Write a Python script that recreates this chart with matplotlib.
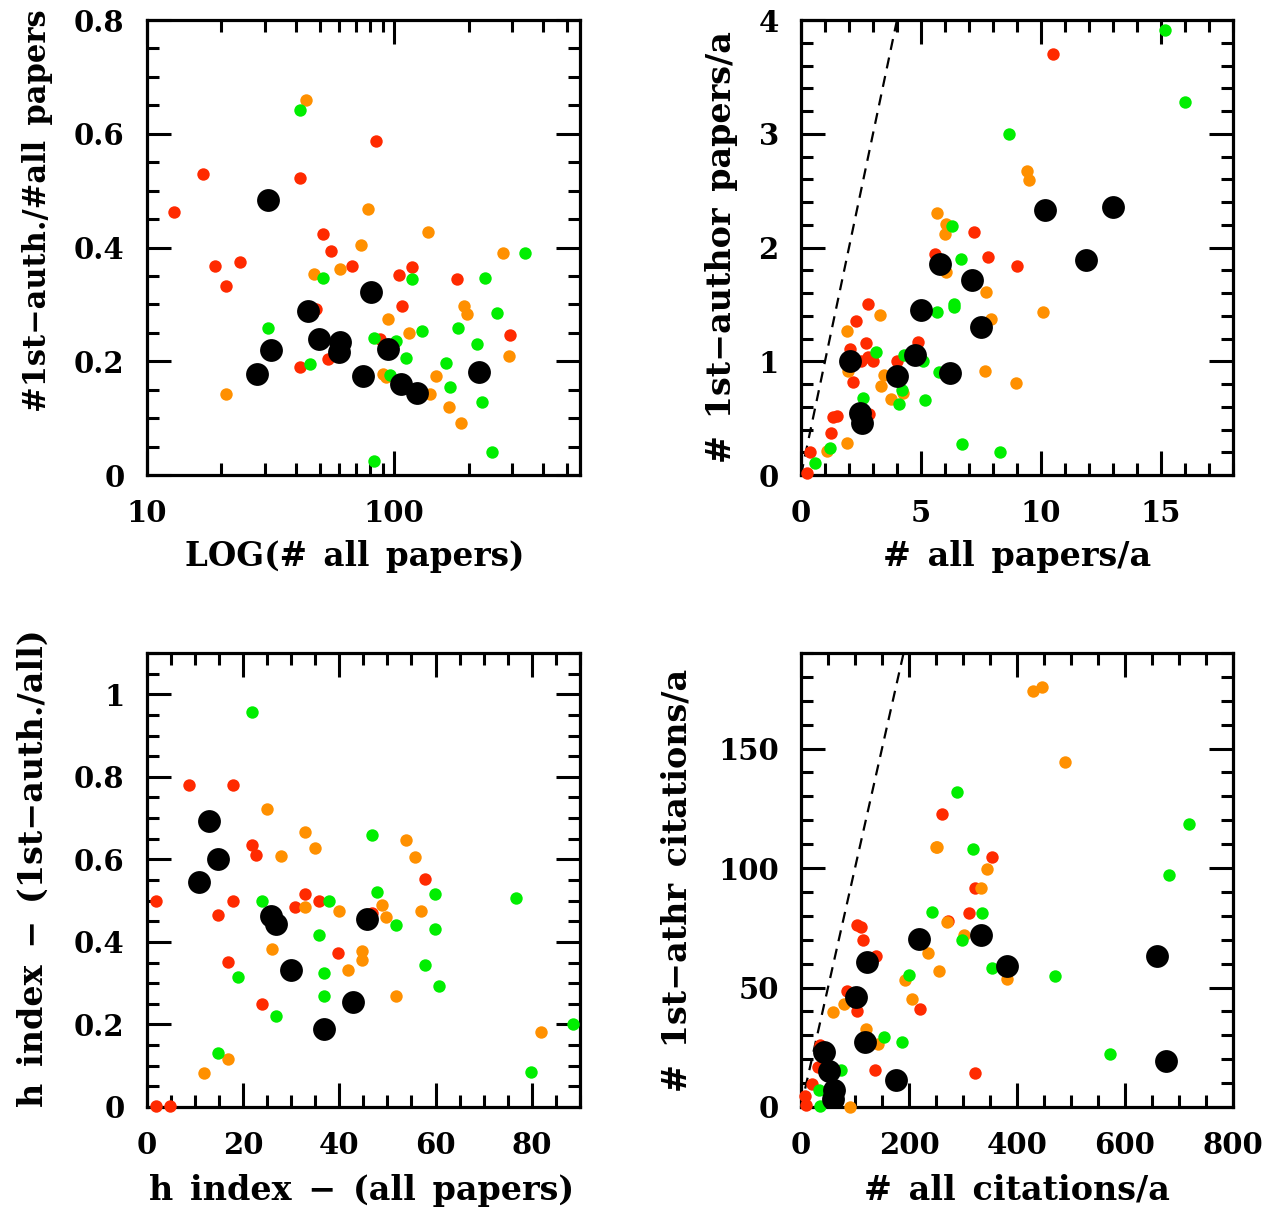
import matplotlib
matplotlib.use("Agg")
import matplotlib.pyplot as plt
from matplotlib.ticker import FixedLocator, MultipleLocator, FuncFormatter, NullFormatter

# ---------------- data ----------------
# Panel 1: x = # all papers (log), y = #1st-auth./#all papers
p1_red_x = [12.9, 16.9, 18.9, 20.9, 23.8, 41.7, 84.3, 51.5, 55.5, 67.4, 104, 117.5, 178.6, 107.4, 48.5, 41.7, 53.8, 87.5, 293.8]
p1_red_y = [0.462, 0.529, 0.368, 0.333, 0.375, 0.523, 0.588, 0.423, 0.393, 0.368, 0.352, 0.365, 0.345, 0.297, 0.292, 0.190, 0.204, 0.240, 0.246]
p1_org_x = [43.8, 78.5, 136.8, 73.3, 47.5, 60.5, 20.9, 94.2, 115, 191, 196, 276, 289.5, 89.8, 93, 148, 140, 167, 186]
p1_org_y = [0.659, 0.468, 0.427, 0.405, 0.354, 0.362, 0.143, 0.274, 0.250, 0.297, 0.283, 0.391, 0.209, 0.178, 0.173, 0.174, 0.142, 0.119, 0.091]
p1_grn_x = [41.7, 30.9, 45.7, 51.5, 118.3, 82.8, 101.6, 128.8, 111.2, 96, 180.7, 161.7, 167.8, 232, 259, 215.6, 225.9, 337, 247, 82.8]
p1_grn_y = [0.642, 0.258, 0.196, 0.346, 0.345, 0.241, 0.236, 0.254, 0.205, 0.175, 0.259, 0.197, 0.154, 0.346, 0.284, 0.230, 0.128, 0.391, 0.040, 0.025]
p1_blk_x = [30.9, 80.2, 44.7, 31.8, 27.8, 49.6, 60.5, 59.6, 94.2, 74.5, 106.2, 123, 219]
p1_blk_y = [0.483, 0.321, 0.289, 0.219, 0.178, 0.240, 0.233, 0.217, 0.222, 0.174, 0.160, 0.145, 0.181]

# Panel 2: x = # all papers/a, y = # 1st-author papers/a
p2_red_x = [10.49, 7.19, 7.81, 8.99, 5.58, 2.81, 2.28, 2.72, 2.06, 2.78, 2.99, 2.51, 2.17, 3.99, 4.88, 1.35, 1.49, 1.25, 2.83, 0.375, 0.24]
p2_red_y = [3.698, 2.133, 1.919, 1.834, 1.943, 1.503, 1.354, 1.163, 1.108, 1.040, 1.002, 1.005, 0.821, 1.005, 1.169, 0.507, 0.519, 0.372, 0.539, 0.199, 0.015]
p2_org_x = [9.42, 9.50, 5.68, 6.06, 5.99, 6.03, 7.71, 7.90, 10.07, 3.28, 1.92, 1.96, 7.67, 8.94, 3.47, 3.32, 3.74, 4.24, 1.92, 1.10]
p2_org_y = [2.673, 2.596, 2.306, 2.204, 2.122, 1.785, 1.609, 1.371, 1.430, 1.407, 1.263, 0.914, 0.911, 0.812, 0.882, 0.779, 0.671, 0.724, 0.278, 0.208]
p2_grn_x = [15.18, 16.0, 8.65, 6.31, 6.68, 6.36, 6.36, 5.65, 3.11, 4.28, 5.10, 5.75, 2.57, 4.21, 4.08, 5.15, 1.19, 0.58, 6.71, 8.28]
p2_grn_y = [3.912, 3.282, 2.998, 2.189, 1.896, 1.503, 1.474, 1.433, 1.081, 1.055, 1.002, 0.903, 0.674, 0.744, 0.621, 0.662, 0.240, 0.108, 0.275, 0.202]
p2_blk_x = [10.18, 13.01, 11.89, 5.78, 7.13, 4.99, 7.49, 4.74, 2.06, 3.99, 6.19, 2.44, 2.53]
p2_blk_y = [2.333, 2.353, 1.890, 1.855, 1.714, 1.448, 1.301, 1.052, 1.002, 0.870, 0.900, 0.542, 0.454]

# Panel 3: x = h index (all papers), y = h index (1st-auth./all)
p3_red_x = [8.86, 17.9, 1.87, 17.9, 14.9, 21.9, 22.8, 32.8, 30.8, 35.8, 46.9, 57.8, 39.8, 16.9, 23.9, 1.87, 4.84]
p3_red_y = [0.779, 0.779, 0.500, 0.500, 0.466, 0.636, 0.610, 0.515, 0.484, 0.500, 0.470, 0.552, 0.374, 0.352, 0.249, 0.002, 0.002]
p3_org_x = [24.9, 32.8, 34.9, 27.9, 53.8, 55.8, 32.8, 39.9, 48.9, 49.8, 56.9, 26.0, 44.8, 44.8, 41.8, 51.8, 81.8, 16.8, 11.8]
p3_org_y = [0.721, 0.667, 0.628, 0.607, 0.648, 0.606, 0.485, 0.475, 0.489, 0.460, 0.474, 0.384, 0.377, 0.355, 0.332, 0.268, 0.182, 0.117, 0.082]
p3_grn_x = [21.9, 46.9, 47.8, 59.8, 76.7, 23.9, 37.9, 51.8, 59.8, 35.8, 57.8, 36.8, 18.9, 60.8, 36.8, 26.9, 88.6, 14.9, 79.8]
p3_grn_y = [0.956, 0.660, 0.521, 0.517, 0.507, 0.500, 0.500, 0.442, 0.432, 0.416, 0.345, 0.324, 0.315, 0.294, 0.269, 0.221, 0.202, 0.132, 0.086]
p3_blk_x = [12.9, 14.9, 10.9, 25.9, 26.9, 45.8, 29.9, 42.8, 36.9]
p3_blk_y = [0.692, 0.600, 0.545, 0.462, 0.444, 0.456, 0.332, 0.255, 0.188]

# Panel 4: x = # all citations/a, y = # 1st-athr citations/a
p4_red_x = [262, 354, 323, 311, 272, 104, 112, 114, 138, 86, 104, 220, 137, 323, 36, 32, 20, 7, 10]
p4_red_y = [122.6, 104.7, 91.5, 81.3, 77.8, 76.0, 75.4, 69.8, 63.4, 48.5, 40.2, 41.2, 15.5, 14.4, 26.1, 16.8, 9.8, 4.5, 0.7]
p4_org_x = [429, 447, 488, 250, 252, 344, 333, 270, 301, 235, 255, 193, 206, 381, 80, 60, 121, 142, 91]
p4_org_y = [173.9, 175.7, 144.3, 108.7, 108.7, 99.6, 91.8, 77.4, 72.1, 64.5, 57.1, 53.1, 45.4, 53.6, 42.9, 39.9, 32.8, 26.5, 0.0]
p4_grn_x = [288, 719, 319, 681, 242, 336, 299, 354, 470, 200, 153, 187, 572, 74, 34, 35]
p4_grn_y = [132.0, 118.3, 108.1, 97.1, 81.4, 81.0, 69.8, 58.1, 54.9, 55.3, 29.3, 27.1, 22.1, 15.6, 7.1, 0.3]
p4_blk_x = [219, 334, 122, 381, 659, 102, 119, 43, 51, 175, 675, 61, 59]
p4_blk_y = [70.1, 71.8, 60.5, 59.1, 63.0, 45.9, 27.0, 23.0, 15.1, 11.3, 19.4, 7.3, 3.5]

SP = "\u2002"
xlabels = ["LOG(#" + SP + "all" + SP + "papers)",
           "#" + SP + "all" + SP + "papers/a",
           "h" + SP + "index" + SP + "\u2212" + SP + "(all" + SP + "papers)",
           "#" + SP + "all" + SP + "citations/a"]
ylabels = ["#1st\u2212auth./#all" + SP + "papers",
           "#" + SP + "1st\u2212author" + SP + "papers/a",
           "h" + SP + "index" + SP + "\u2212" + SP + "(1st\u2212auth./all)",
           "#" + SP + "1st\u2212athr" + SP + "citations/a"]

RED, ORG, GRN, BLK = "#ff2a00", "#ff9000", "#00ee00", "#000000"
S_SMALL, S_BIG = 80, 270

plt.rcParams['font.family'] = ['DejaVu Serif']
plt.rcParams['font.weight'] = 'bold'
plt.rcParams['axes.labelweight'] = 'bold'

fig = plt.figure(figsize=(12.82, 12.12), dpi=100)
W, H = 1282.0, 1212.0

def make_ax(x0, y0, x1, y1):
    return fig.add_axes([x0 / W, 1 - y1 / H, (x1 - x0) / W, (y1 - y0) / H])

ax1 = make_ax(146.7, 20, 580, 475)
ax2 = make_ax(801, 20, 1233, 475)
ax3 = make_ax(146.7, 653, 580, 1107)
ax4 = make_ax(801, 653, 1233, 1107)

fmt = FuncFormatter(lambda v, p: "%g" % v)

def style(ax):
    for sp in ax.spines.values():
        sp.set_linewidth(2.3)
    ax.tick_params(which='both', direction='in', top=True, right=True, width=2.2,
                   labelsize=21)
    ax.tick_params(axis='y', which='both', pad=16)
    ax.tick_params(axis='x', which='both', pad=17)
    ax.tick_params(which='major', length=17)
    ax.tick_params(which='minor', length=8.5)

def draw(ax, d):
    rx, ry, ox, oy, gx, gy, bx, by = d
    ax.scatter(rx, ry, s=S_SMALL, c=RED, linewidths=0, zorder=3, clip_on=False)
    ax.scatter(ox, oy, s=S_SMALL, c=ORG, linewidths=0, zorder=4, clip_on=False)
    ax.scatter(gx, gy, s=S_SMALL, c=GRN, linewidths=0, zorder=5, clip_on=False)
    ax.scatter(bx, by, s=S_BIG, c=BLK, linewidths=0, zorder=6)

# Panel 1
draw(ax1, (p1_red_x, p1_red_y, p1_org_x, p1_org_y, p1_grn_x, p1_grn_y, p1_blk_x, p1_blk_y))
ax1.set_xscale('log')
ax1.set_xlim(10, 10 ** 2.75)
ax1.set_ylim(0, 0.8)
ax1.xaxis.set_major_locator(FixedLocator([10, 100]))
ax1.xaxis.set_minor_locator(FixedLocator([20, 30, 40, 50, 60, 70, 80, 90, 200, 300, 400, 500]))
ax1.xaxis.set_major_formatter(fmt)
ax1.xaxis.set_minor_formatter(NullFormatter())
ax1.yaxis.set_major_locator(MultipleLocator(0.2))
ax1.yaxis.set_minor_locator(MultipleLocator(0.05))
ax1.yaxis.set_major_formatter(fmt)

# Panel 2
draw(ax2, (p2_red_x, p2_red_y, p2_org_x, p2_org_y, p2_grn_x, p2_grn_y, p2_blk_x, p2_blk_y))
ax2.plot([0, 4], [0, 4], ls=(0, (5, 3.5)), color='k', lw=1.6, zorder=2)
ax2.set_xlim(0, 18)
ax2.set_ylim(0, 4)
ax2.xaxis.set_major_locator(MultipleLocator(5))
ax2.xaxis.set_minor_locator(MultipleLocator(1))
ax2.yaxis.set_major_locator(MultipleLocator(1))
ax2.yaxis.set_minor_locator(MultipleLocator(0.2))
ax2.xaxis.set_major_formatter(fmt)
ax2.yaxis.set_major_formatter(fmt)

# Panel 3
draw(ax3, (p3_red_x, p3_red_y, p3_org_x, p3_org_y, p3_grn_x, p3_grn_y, p3_blk_x, p3_blk_y))
ax3.set_xlim(0, 90)
ax3.set_ylim(0, 1.1)
ax3.xaxis.set_major_locator(MultipleLocator(20))
ax3.xaxis.set_minor_locator(MultipleLocator(5))
ax3.yaxis.set_major_locator(MultipleLocator(0.2))
ax3.yaxis.set_minor_locator(MultipleLocator(0.05))
ax3.xaxis.set_major_formatter(fmt)
ax3.yaxis.set_major_formatter(fmt)

# Panel 4
draw(ax4, (p4_red_x, p4_red_y, p4_org_x, p4_org_y, p4_grn_x, p4_grn_y, p4_blk_x, p4_blk_y))
ax4.plot([0, 190], [0, 190], ls=(0, (5, 3.5)), color='k', lw=1.6, zorder=2)
ax4.set_xlim(0, 800)
ax4.set_ylim(0, 190)
ax4.xaxis.set_major_locator(MultipleLocator(200))
ax4.xaxis.set_minor_locator(MultipleLocator(50))
ax4.yaxis.set_major_locator(MultipleLocator(50))
ax4.yaxis.set_minor_locator(MultipleLocator(10))
ax4.xaxis.set_major_formatter(fmt)
ax4.yaxis.set_major_formatter(fmt)

xl_pos = [(0.481, -0.180), (0.5, -0.180), (0.497, -0.183), (0.5, -0.183)]
yl_pos = [(-0.253, 0.58), (-0.183, 0.5), (-0.262, 0.526), (-0.287, 0.5)]
xl_size = [23.5, 24, 24, 24]
yl_size = [22, 24, 24, 24]

for i, ax in enumerate([ax1, ax2, ax3, ax4]):
    style(ax)
    ax.set_xlabel(xlabels[i], fontsize=xl_size[i])
    ax.set_ylabel(ylabels[i], fontsize=yl_size[i])
    ax.xaxis.set_label_coords(*xl_pos[i])
    ax.yaxis.set_label_coords(*yl_pos[i])
    ax.xaxis.label.set_va('center')
    ax.yaxis.label.set_va('center')

fig.savefig("out.png", dpi=100)
